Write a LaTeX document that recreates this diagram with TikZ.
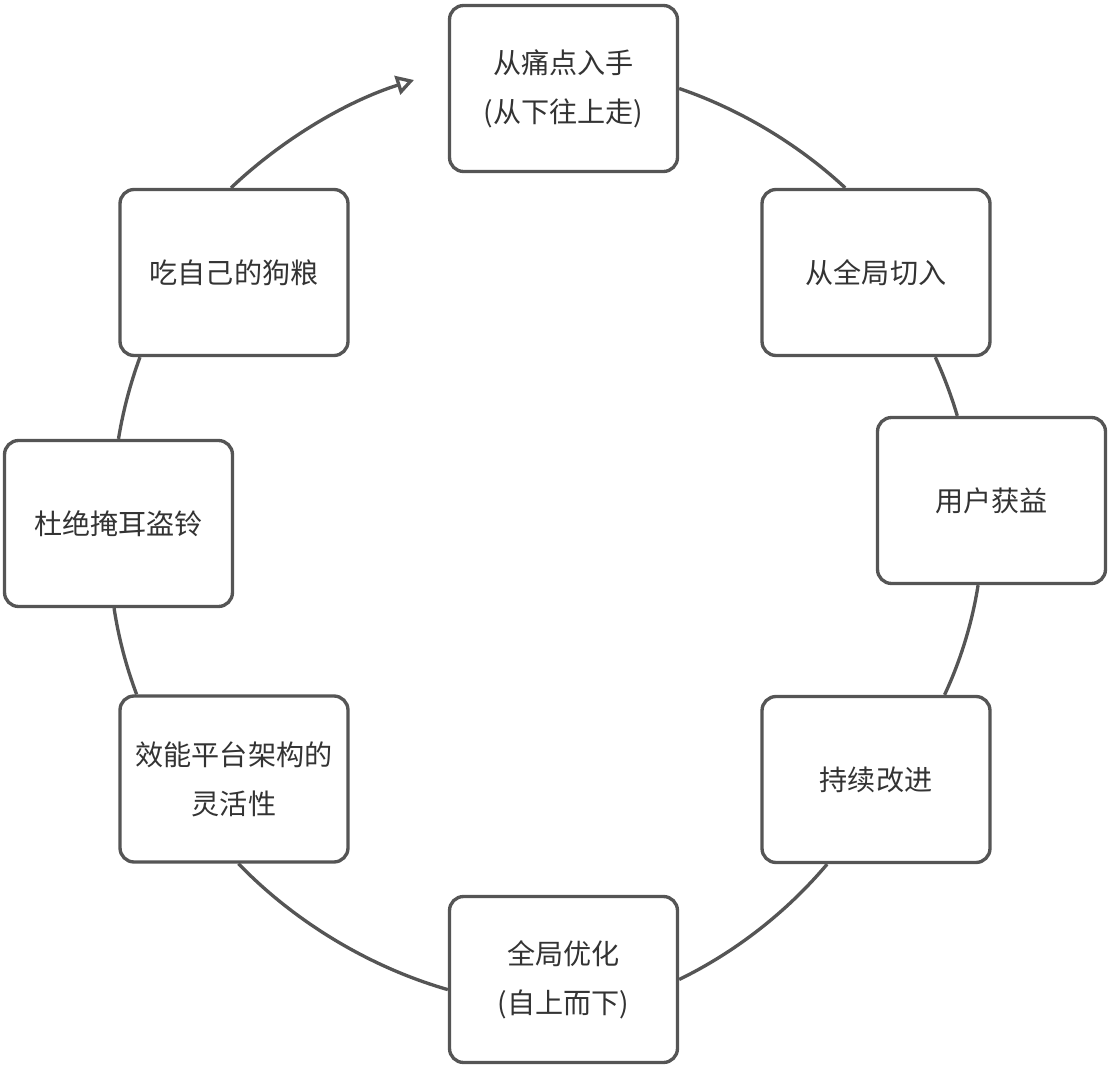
\documentclass[tikz,border=0pt]{standalone}
\usepackage{fontspec}
\setmainfont{Noto Sans CJK SC}
\usetikzlibrary{arrows.meta}
\definecolor{edgegray}{RGB}{85,85,85}
\definecolor{textgray}{RGB}{51,51,51}
\begin{document}
\begin{tikzpicture}[x=0.02cm, y=-0.02cm, block/.style={rectangle, draw=edgegray, fill=white, line width=1.9pt, rounded corners=0.28cm, minimum width=4.56cm, minimum height=3.32cm, align=center, text=textgray, font=\fontsize{16pt}{28pt}\selectfont}, link/.style={draw=edgegray, line width=1.9pt, looseness=0.85}]
  \useasboundingbox (0,0) rectangle (1110,1068);
  \node[block] (pain) at (563.5,88.5) {从痛点入手\\(从下往上走)};
  \node[block] (whole) at (876,272.5) {从全局切入};
  \node[block] (gain) at (991.5,500.5) {用户获益};
  \node[block] (improve) at (876,779.5) {持续改进};
  \node[block] (optim) at (563.5,979.5) {全局优化\\(自上而下)};
  \node[block] (flex) at (234,779) {效能平台架构的\\灵活性};
  \node[block] (honest) at (118.5,523.5) {杜绝掩耳盗铃};
  \node[block] (dog) at (234,272.5) {吃自己的狗粮};
  \coordinate (back) at (414,80);

  \draw[link] (pain.east) to[bend left=12] (whole.110);
  \draw[link] (whole.305) to[bend left=4] (gain.112);
  \draw[link] (gain.261) to[bend left=8] (improve.51);
  \draw[link] (improve.240) to[bend left=12] (optim.east);
  \draw[link] (optim.185) to[bend left=15] (flex.273);
  \draw[link] (flex.139) to[bend left=6] (honest.267);
  \draw[link] (honest.north) to[bend left=5.5] (dog.222);
  \draw[link, -{Triangle[open, length=10pt, width=11pt]}] (dog.92) to[bend left=13] (back);
\end{tikzpicture}
\end{document}
